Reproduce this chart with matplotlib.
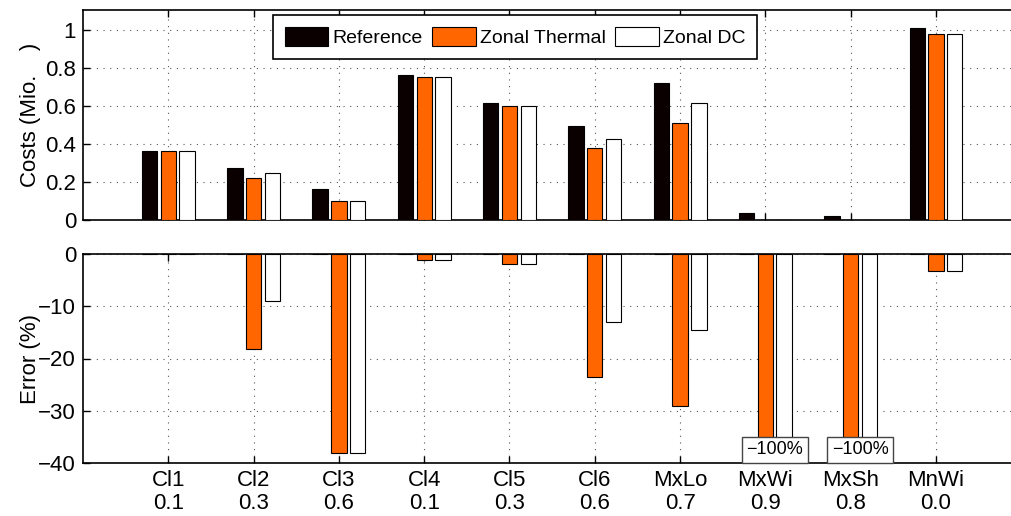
import numpy as np
import matplotlib
matplotlib.use("Agg")
import matplotlib.pyplot as plt

plt.rcParams['font.family'] = ['Liberation Sans', 'DejaVu Sans']
plt.rcParams['font.size'] = 16

# data
cases = ["Cl1", "Cl2", "Cl3", "Cl4", "Cl5", "Cl6", "MxLo", "MxWi", "MxSh", "MnWi"]
shares = ["0.1", "0.3", "0.6", "0.1", "0.3", "0.6", "0.7", "0.9", "0.8", "0.0"]
series = ["Reference", "Zonal Thermal", "Zonal DC"]

cost_ref = [0.363, 0.272, 0.165, 0.762, 0.615, 0.492, 0.722, 0.035, 0.02, 1.01]
cost_thermal = [0.363, 0.222, 0.102, 0.752, 0.602, 0.377, 0.512, 0.0, 0.0, 0.977]
cost_dc = [0.363, 0.246, 0.102, 0.752, 0.602, 0.428, 0.615, 0.0, 0.0, 0.977]

err_ref = [0, 0, 0, 0, 0, 0, 0, 0, 0, 0]
err_thermal = [0.0, -18.2, -38.0, -1.2, -2.0, -23.5, -29.0, -100, -100, -3.3]
err_dc = [0.0, -9.0, -38.0, -1.2, -2.0, -13.0, -14.5, -100, -100, -3.3]

colors = ["#0a0000", "#ff6600", "#ffffff"]
offsets = [-0.22, 0.0, 0.22]
width = 0.18

fig = plt.figure(figsize=(10.12, 5.16), dpi=100)
W = 1012.0
H = 516.0
left = 83 / W
right_px = 83 + 11 * 85.3
ax1 = fig.add_axes([left, (H - 220) / H, (right_px - 83) / W, 210 / H])
ax2 = fig.add_axes([left, (H - 463) / H, (right_px - 83) / W, 209 / H])

x = np.arange(1, len(cases) + 1)

for vals, c, off, name in zip([cost_ref, cost_thermal, cost_dc], colors, offsets, series):
    ax1.bar(x + off, vals, width, color=c, edgecolor="black", linewidth=0.8, label=name, zorder=3)

for vals, c, off in zip([err_ref, err_thermal, err_dc], colors, offsets):
    ax2.bar(x + off, vals, width, color=c, edgecolor="black", linewidth=0.8, zorder=3)

ax1.set_ylim(0, 1.105)
ax1.set_yticks([0, 0.2, 0.4, 0.6, 0.8, 1])
ax1.set_yticklabels(["0", "0.2", "0.4", "0.6", "0.8", "1"])
ax1.set_ylabel("Costs (Mio.    )")
ax1.set_xticks(x)
ax1.set_xticklabels([])

ax2.set_ylim(-40, 0)
ax2.set_yticks([-40, -30, -20, -10, 0])
ax2.set_yticklabels(["\u221240", "\u221230", "\u221220", "\u221210", "0"])
ax2.set_ylabel("Error (%)")
ax2.set_xticks(x)
ax2.set_xticklabels([c + "\n" + s for c, s in zip(cases, shares)], linespacing=1.1)

for ax in (ax1, ax2):
    ax.set_xlim(0, 11)
    ax.grid(True, linestyle=(0, (1, 5)), color="#555555", linewidth=0.8, zorder=0)
    ax.tick_params(direction="in", top=True, right=True, length=5, width=1, pad=5)
    ax.tick_params(axis="x", pad=5)
    for sp in ax.spines.values():
        sp.set_linewidth(1.2)
    ax.yaxis.set_label_coords(-0.045, 0.5)

# clipped bars get a label
for i, (et, ed) in enumerate(zip(err_thermal, err_dc)):
    if et <= -40 and ed <= -40:
        ax2.text(x[i] + 0.11, -37.5, "\u2212" + str(int(-et)) + "%", ha="center", va="center",
                 fontsize=13, zorder=5,
                 bbox=dict(boxstyle="square,pad=0.25", facecolor="white", edgecolor="#444444", linewidth=1))

leg = ax1.legend(loc="upper center", bbox_to_anchor=((515 - 83) / (right_px - 83), 0.975),
                 ncol=3, frameon=True, fancybox=False, edgecolor="black", framealpha=1,
                 fontsize=14, handlelength=2.25, handleheight=1.15, handletextpad=0.2,
                 columnspacing=0.5, borderpad=0.6, borderaxespad=0)
leg.get_frame().set_linewidth(1.2)

fig.savefig("out.png", dpi=100)
